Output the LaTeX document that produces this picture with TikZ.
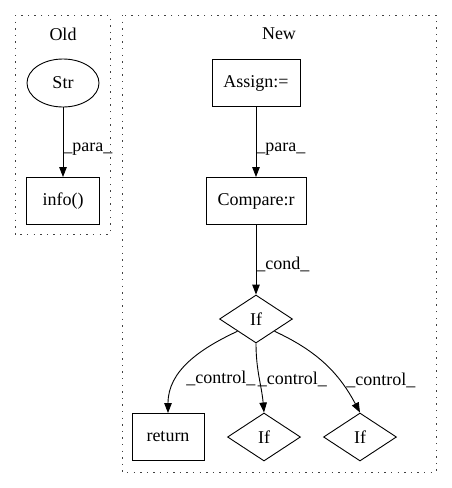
\documentclass[tikz,border=0pt]{standalone}
\usepackage{fontspec}
\setmainfont{Liberation Serif}
\usetikzlibrary{shapes.geometric,arrows.meta}
\tikzset{
  box/.style={draw, line width=0.9pt, rectangle, minimum width=72pt, minimum height=47pt, inner sep=2pt},
  oval/.style={draw, line width=0.9pt, ellipse, minimum width=72pt, minimum height=48pt, inner sep=0pt},
  cond/.style={draw, line width=0.9pt, diamond, aspect=1.5, minimum width=73pt, minimum height=48pt, inner sep=0pt},
  cluster/.style={line width=0.9pt, dash pattern=on 1.4pt off 5.2pt, gray!50!black},
  flow/.style={-{Triangle[length=10pt,width=7.5pt]}, line width=0.9pt},
  lbl/.style={anchor=west, inner sep=0pt}
}
\begin{document}
\begin{tikzpicture}[x=1pt, y=1pt, font=\fontsize{18}{20}\selectfont]
  \useasboundingbox (0,0) rectangle (452,-488);
  % clusters
  \draw[cluster] (15,-15) rectangle (110,-234);
  \draw[cluster] (122,-15) rectangle (436,-472);
  \node (oldlbl) at (63,-34) {Old};
  \node (newlbl) at (279,-34) {New};
  % old
  \node[oval] (str) at (63,-83) {Str};
  \node[box, minimum width=73pt] (info) at (63,-201) {info()};
  \draw[flow] (str) -- node[lbl, pos=0.6] {\_para\_} (info);
  % new
  \node[box, minimum width=88pt] (assign) at (256,-83) {Assign:=};
  \node[box, minimum width=100pt] (cmp) at (256,-201) {Compare:r};
  \node[cond] (if) at (256,-319) {If};
  \node[box] (ret) at (168,-437) {return};
  \node[cond] (ifa) at (264,-437) {If};
  \node[cond] (ifb) at (360,-437) {If};
  \draw[flow] (assign) -- node[lbl, pos=0.6] {\_para\_} (cmp);
  \draw[flow] (cmp) -- node[lbl, pos=0.57] {\_cond\_} (if);
  \draw[flow] (if.south west) to[out=205, in=90] node[lbl, pos=0.68, xshift=9pt] {\_control\_} (ret.north);
  \draw[flow] (if.south) to[out=-90, in=95] node[lbl, pos=0.52, xshift=-2pt] {\_control\_} (ifa.north);
  \draw[flow] (if.south east) to[out=-25, in=118] node[lbl, pos=0.7, xshift=6pt] {\_control\_} (ifb.north);
\end{tikzpicture}
\end{document}
